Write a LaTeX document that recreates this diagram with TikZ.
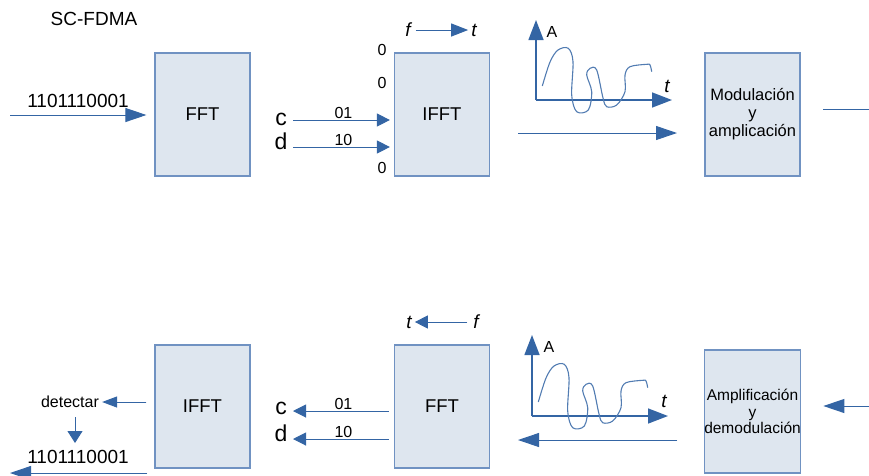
\documentclass[tikz,border=0pt]{standalone}
\usepackage{fontspec}
\setmainfont{Liberation Sans}
\usetikzlibrary{arrows.meta,positioning,calc}
\definecolor{boxFill}{RGB}{222,230,239}
\definecolor{boxLine}{RGB}{112,146,194}
\definecolor{arrBlue}{RGB}{52,101,164}
\tikzset{
	blk/.style={
		draw=boxLine,
		fill=boxFill,
		line width=1.2pt,
		align=center,
		inner sep=0pt,
		minimum width=95pt,
		minimum height=123pt,
		font=\fontsize{18.5}{20}\selectfont
	},
	lbl/.style={inner sep=0pt, font=\fontsize{19}{21}\selectfont},
	sml/.style={inner sep=0pt, font=\fontsize{16}{18}\selectfont},
	big/.style={inner sep=0pt, font=\fontsize{23}{25}\selectfont},
	barr/.style={-{Triangle[length=21pt,width=14pt]}, draw=arrBlue, fill=arrBlue, line width=1pt},
	sarr/.style={-{Triangle[length=13pt,width=13pt]}, draw=arrBlue, fill=arrBlue, line width=1pt},
	axarr/.style={-{Triangle[length=20pt,width=15pt]}, draw=arrBlue, fill=arrBlue, line width=1.5pt},
	wav/.style={draw=arrBlue!85, line width=1.1pt}
}

\begin{document}
\begin{tikzpicture}[x=1pt, y=-1pt]
	\useasboundingbox (0,0) rectangle (869,475);
	% emisor
	\node[lbl] (title) at (94,19) {SC-FDMA};
	\node[blk] (fft1) at (202.5,114.5) {FFT};
	\node[blk] (ifft1) at (442,114.5) {IFFT};
	\node[blk, font=\fontsize{16.5}{18}\selectfont] (mod) at (752.5,114.5)
		{Modulación\\y\\amplicación};
	\node[lbl] (bits1) at (78,101) {1101110001};
	\coordinate (in1) at (10,115);
	\draw[barr, shorten >=8pt] (in1) -- (in1 -| fft1.west);
	\node[big] (c1) at (281,119) {c};
	\node[big] (d1) at (281,141) {d};
	\coordinate (c1s) at (293,120);
	\coordinate (d1s) at (293,147);
	\draw[sarr, shorten >=4pt] (c1s) -- (c1s -| ifft1.west) node[midway, above=1pt, sml] {01};
	\draw[sarr, shorten >=4pt] (d1s) -- (d1s -| ifft1.west) node[midway, above=1pt, sml] {10};
	\node[sml] (z1) at (382,50) {0};
	\node[sml] (z2) at (382,83) {0};
	\node[sml] (z3) at (382,168) {0};
	\node[lbl] (f1) at (408,30) {\itshape f};
	\node[lbl] (t1) at (474,30) {\itshape t};
	\draw[sarr, -{Triangle[length=17pt,width=13pt]}, shorten <=5pt, shorten >=3pt] (f1) -- (t1);
	\coordinate (o1) at (536,100);
	\draw[axarr] (o1) -- ++(0,-80) coordinate (a1);
	\draw[axarr] (o1) -- ++(136,0) coordinate (h1);
	\node[sml] (A1) at (552,32) {A};
	\node[lbl] (tt1) at (667,86) {\itshape t};
	\coordinate (s1) at (518,133);
	\coordinate (e1) at (677,133);
	\draw[barr] (s1) -- (e1);
	\coordinate (out1) at (823,109);
	\draw[draw=arrBlue, line width=1pt] (out1) -- (869,109);
	% receptor
	\node[blk] (ifft2) at (202.5,406.5) {IFFT};
	\node[blk] (fft2) at (442,406.5) {FFT};
	\node[blk, font=\fontsize{15.5}{16.5}\selectfont] (amp) at (752.5,411.5)
		{Amplificación\\y\\demodulación};
	\coordinate (in2) at (869,406);
	\draw[barr, shorten >=22pt] (in2) -- (in2 -| amp.east);
	\coordinate (s2) at (677,440);
	\coordinate (e2) at (518,440);
	\draw[barr] (s2) -- (e2);
	\coordinate (o2) at (532,416);
	\draw[axarr] (o2) -- ++(0,-81) coordinate (a2);
	\draw[axarr] (o2) -- ++(136,0) coordinate (h2);
	\node[sml] (A2) at (549,347) {A};
	\node[lbl] (tt2) at (664,401) {\itshape t};
	\node[lbl] (t2) at (409,322) {\itshape t};
	\node[lbl] (f2) at (476,322) {\itshape f};
	\draw[sarr, shorten <=6pt, shorten >=3pt] (f2) -- (t2);
	\node[big] (c2) at (281,408) {c};
	\node[big] (d2) at (281,433) {d};
	\coordinate (c2e) at (293,411);
	\coordinate (d2e) at (293,439);
	\draw[sarr, shorten <=5pt] (c2e -| fft2.west) -- (c2e) node[midway, above=1pt, sml] {01};
	\draw[sarr, shorten <=5pt] (d2e -| fft2.west) -- (d2e) node[midway, above=1pt, sml] {10};
	\node[sml] (det) at (70,402) {detectar};
	\draw[sarr, -{Triangle[length=15pt,width=11pt]}, shorten <=8pt, shorten >=3pt] (det -| ifft2.west) -- (det);
	\node[lbl] (bits2) at (78,457) {1101110001};
	\coordinate (v1) at (75,417);
	\coordinate (v2) at (75,443);
	\draw[sarr, -{Triangle[length=12pt,width=15pt]}] (v1) -- (v2);
	\coordinate (out2) at (147,473);
	\draw[barr] (out2) -- (10,473);
	% ondas
	\foreach \ox/\oy in {536/100, 532/416}
		\draw[wav, shift={(\ox,\oy)}] plot[smooth, tension=0.55] coordinates {
			(6.3,-14) (14,-38) (22,-50) (32.3,-51.7) (37,-38.3) (35.7,-5)
			(40.7,11.7) (52.3,10) (55.7,-8.3) (50.7,-25) (54,-31.7) (60.7,-30)
			(67,-2) (70.7,6.7) (80.7,5) (89,-8.3) (89,-25) (94,-33.3)
			(110.7,-35.7) (114,-35) (115.7,-28.3)};
\end{tikzpicture}
\end{document}
